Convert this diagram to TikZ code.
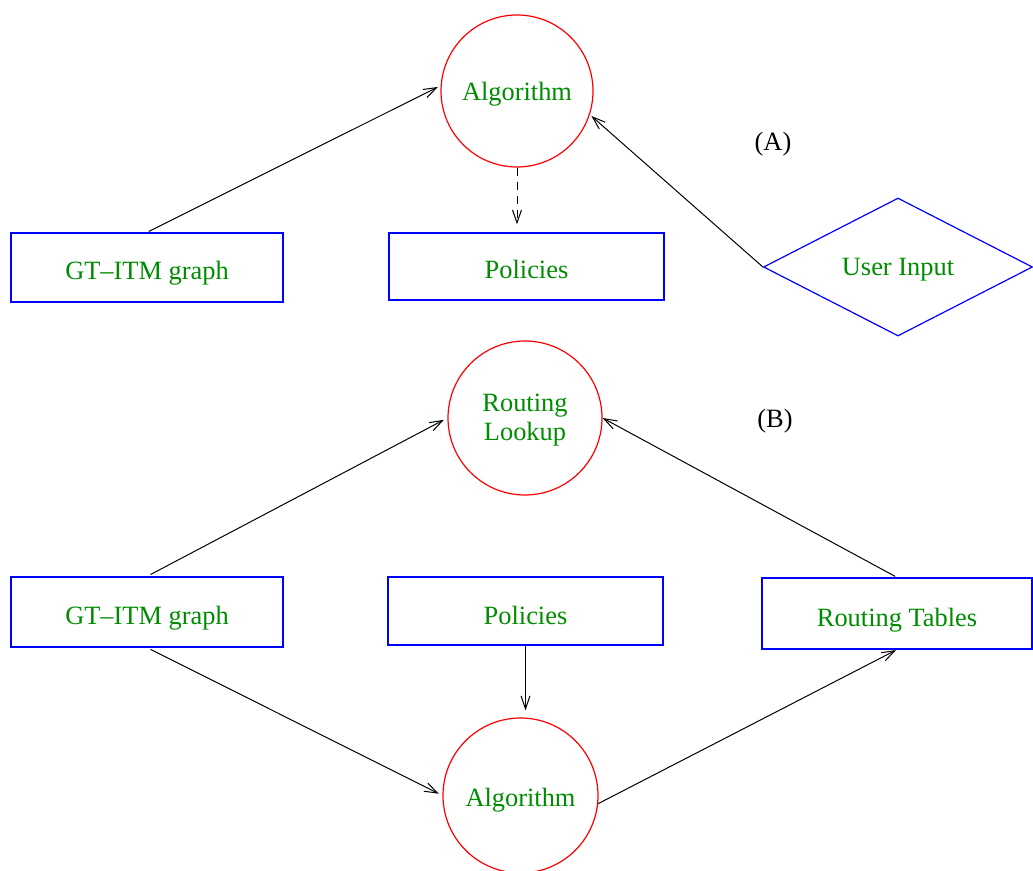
\documentclass[tikz,border=0pt]{standalone}
\usepackage{fontspec}
\setmainfont{Liberation Serif}
\usetikzlibrary{arrows.meta,shapes.geometric}
\definecolor{txtgreen}{RGB}{0,140,0}
\newcommand\lowtxt[2]{\raisebox{-#1}[0pt][0pt]{#2}}
\begin{document}
\begin{tikzpicture}[x=0.5pt,y=-0.5pt,
  font=\fontsize{13.2pt}{14.2pt}\selectfont,
  box/.style={draw=blue,line width=0.6pt,rectangle,inner sep=0pt,text=txtgreen},
  circ/.style={draw=red,line width=0.6pt,circle,inner sep=0pt,text=txtgreen,align=center},
  dia/.style={draw=blue,line width=0.6pt,diamond,inner sep=0pt,text=txtgreen,shape aspect=2},
  conn/.style={line width=0.5pt,-{Straight Barb[length=6.5pt,width=4.5pt]}},
  lbl/.style={text=black}]
\useasboundingbox (0,0) rectangle (1033,871);
% (A)
\node[circ,minimum size=76pt] (algA) at (517,91) {\lowtxt{4.85pt}{Algorithm}};
\node[box,minimum width=136pt,minimum height=34.5pt] (gtA) at (147,267.5) {\lowtxt{6.25pt}{GT–ITM graph}};
\node[box,minimum width=137.5pt,minimum height=33.5pt] (polA) at (526.5,266.5) {\lowtxt{5.9pt}{Policies}};
\node[dia,minimum width=134.5pt,minimum height=69pt] (uiA) at (898,267) {\lowtxt{4.5pt}{User Input}};
\node[lbl] (labA) at (773,144) {(A)};
\draw[conn,shorten <=1pt,shorten >=1.5pt] (gtA.north) -- (algA.176);
\draw[conn,shorten >=1pt] (uiA.west) -- (algA.-18);
\draw[conn,dashed,dash pattern=on 4pt off 3pt,shorten >=4pt] (algA.south) -- (algA.south |- polA.north);
% (B)
\node[circ,minimum size=77pt] (rlB) at (525,418) {\lowtxt{4pt}{Routing}\\\lowtxt{4pt}{Lookup}};
\node[lbl] (labB) at (775,421) {(B)};
\node[box,minimum width=136pt,minimum height=35pt] (gtB) at (147,612) {\lowtxt{6.15pt}{GT–ITM graph}};
\node[box,minimum width=137.5pt,minimum height=34pt] (polB) at (525.5,611) {\lowtxt{6.65pt}{Policies}};
\node[box,minimum width=135pt,minimum height=35.5pt] (rtB) at (897,613.5) {\lowtxt{6.25pt}{Routing Tables}};
\node[circ,minimum size=77.5pt] (algB) at (520.5,795.5) {\lowtxt{5.6pt}{Algorithm}};
\draw[conn,shorten <=2pt,shorten >=2pt] (gtB.north) -- (rlB.180);
\draw[conn,shorten <=1pt,shorten >=0pt] (rtB.north) -- (rlB.0);
\draw[conn,shorten <=2pt,shorten >=2pt] (gtB.south) -- (algB.180);
\draw[conn,shorten >=3.5pt] (polB.south) -- (polB.south |- algB.north);
\draw[conn,shorten <=0pt,shorten >=0.5pt] (algB.-6) -- (rtB.south);
\end{tikzpicture}
\end{document}
